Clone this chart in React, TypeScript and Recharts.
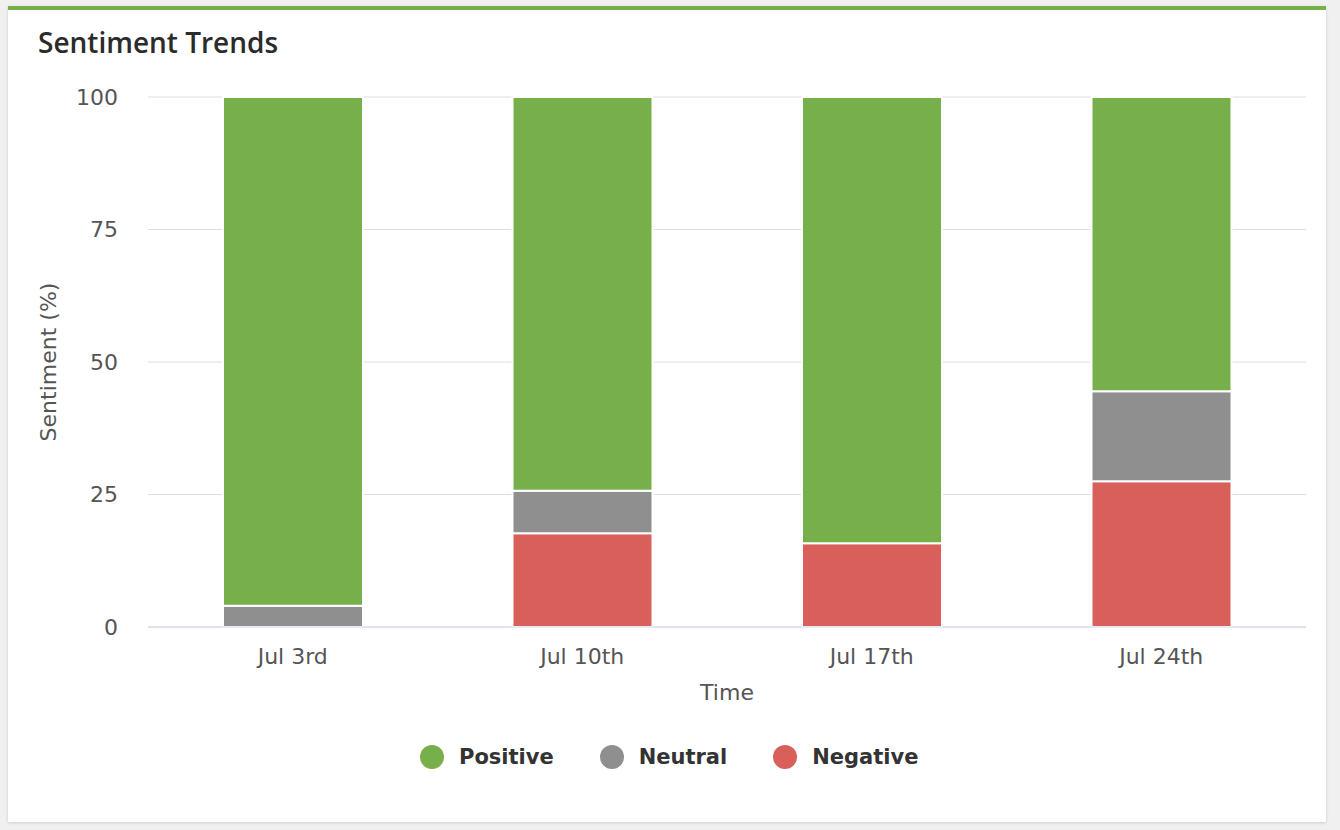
import {
  BarChart,
  Bar,
  XAxis,
  YAxis,
  CartesianGrid,
  Legend,
} from 'recharts'

const weeks = ['Jul 3rd', 'Jul 10th', 'Jul 17th', 'Jul 24th']
const positive = [96, 74.3, 84.2, 55.5]
const neutral = [4, 8, 0, 17]
const negative = [0, 17.7, 15.8, 27.5]
const yTicks = [0, 25, 50, 75, 100]

const GREEN = '#77b04b'
const GREY = '#8f8f8f'
const RED = '#d95f5b'

const FONT = '"DejaVu Sans", Verdana, sans-serif'

const data = weeks.map((week, i) => ({
  week,
  positive: positive[i],
  neutral: neutral[i],
  negative: negative[i],
}))

// legend reads top-down (positive first) while the stack is drawn bottom-up
const legendItems = [
  { label: 'Positive', color: GREEN },
  { label: 'Neutral', color: GREY },
  { label: 'Negative', color: RED },
]

const SentimentLegend = () => (
  <div style={{ display: 'flex', alignItems: 'center', fontFamily: FONT }}>
    {legendItems.map((it) => (
      <div key={it.label} style={{ display: 'flex', alignItems: 'center', marginRight: 46 }}>
        <span
          style={{
            width: 24,
            height: 24,
            borderRadius: '50%',
            background: it.color,
            marginRight: 15,
          }}
        />
        <span style={{ fontSize: 21, fontWeight: 700, color: '#333' }}>{it.label}</span>
      </div>
    ))}
  </div>
)

const axisText = { fill: '#555', fontSize: 22, fontFamily: FONT }

const App = () => {
  return (
    <div
      style={{
        position: 'absolute',
        left: 0,
        top: 0,
        width: 1340,
        height: 830,
        background: '#f0f0f0',
      }}
    >
      <div
        style={{
          position: 'absolute',
          left: 8,
          top: 6,
          width: 1318,
          height: 816,
          background: '#fff',
          borderTop: '4px solid #77b04b',
          boxSizing: 'border-box',
          boxShadow: '0 1px 3px rgba(0,0,0,0.15)',
        }}
      >
        <div
          style={{
            position: 'absolute',
            left: 30,
            top: 18,
            fontFamily: '"Open Sans", sans-serif',
            fontWeight: 600,
            fontSize: 28,
            lineHeight: 1,
            color: '#2b2b2b',
          }}
        >
          Sentiment Trends
        </div>
        <div style={{ position: 'absolute', left: 0, top: -4 }}>
          <BarChart
            width={1318}
            height={816}
            data={data}
            margin={{ top: 91, right: 20, bottom: 115, left: 0 }}
            barSize={140}
          >
            <CartesianGrid vertical={false} stroke="#dedede" />
            <XAxis
              dataKey="week"
              height={80}
              tickLine={false}
              axisLine={{ stroke: '#ccd6eb' }}
              tickMargin={15}
              tick={axisText}
              label={{ value: 'Time', position: 'insideBottom', offset: 7, ...axisText }}
            />
            <YAxis
              width={140}
              domain={[0, 100]}
              ticks={yTicks}
              tickLine={false}
              axisLine={false}
              tickMargin={24}
              tick={axisText}
              label={{
                value: 'Sentiment (%)',
                angle: -90,
                position: 'center',
                dx: -30,
                ...axisText,
              }}
            />
            <Bar dataKey="negative" name="Negative" stackId="s" fill={RED} stroke="#fff" strokeWidth={2} isAnimationActive={false} />
            <Bar dataKey="neutral" name="Neutral" stackId="s" fill={GREY} stroke="#fff" strokeWidth={2} isAnimationActive={false} />
            <Bar dataKey="positive" name="Positive" stackId="s" fill={GREEN} stroke="#fff" strokeWidth={2} isAnimationActive={false} />
            <Legend
              layout="horizontal"
              verticalAlign="middle"
              align="center"
              wrapperStyle={{ left: 412, top: 739, width: 700 }}
              content={() => <SentimentLegend />}
            />
          </BarChart>
        </div>
      </div>
    </div>
  )
}

export default App
